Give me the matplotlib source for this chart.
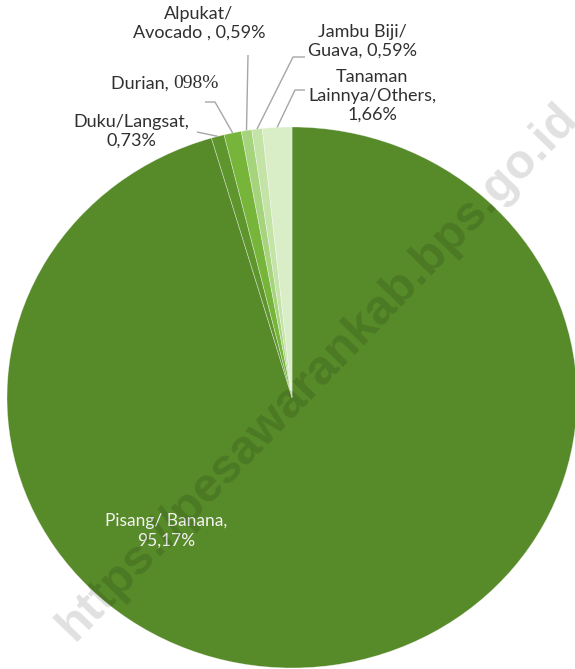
import matplotlib
matplotlib.use("Agg")
import matplotlib.pyplot as plt
import numpy as np

categories = ["Pisang/ Banana", "Duku/Langsat", "Durian", "Alpukat/\nAvocado ", "Jambu Biji/\nGuava", "Tanaman\nLainnya/Others"]
values = [95.17, 0.73, 0.98, 0.59, 0.59, 1.66]
value_labels = ["95,17%", "0,73%", "098%", "0,59%", "0,59%", "1,66%"]
colors = ["#578a29", "#5e952d", "#77b43a", "#a6d47d", "#c4e3a7", "#d9edc6"]

W, H = 575, 669
CX, CY, RX, RY = 292, 397.5, 285, 270.5

fig = plt.figure(figsize=(W / 100, H / 100), dpi=100)
ax = fig.add_axes([0, 0, 1, 1])

wedges, _ = ax.pie(values, colors=colors, startangle=90, counterclock=False,
                   wedgeprops=dict(edgecolor=(1, 1, 1, 0.45), linewidth=0.5))
ax.set_aspect("auto")
ax.set_xlim(-CX / RX, (W - CX) / RX)
ax.set_ylim(-(H - CY) / RY, CY / RY)
ax.axis("off")


def p2d(px, py):
    return (px - CX) / RX, (CY - py) / RY


def edge_point(w):
    a = np.deg2rad((w.theta1 + w.theta2) / 2)
    return np.cos(a), np.sin(a)


FONT = "Lato"
FS = 13
TC = "#303030"
LC = "#a6a6a6"
LS = 1.2

# watermark
fig.text(318 / W, 1 - 372 / H, "https://pesawarankab.bps.go.id", rotation=46,
         rotation_mode="anchor", ha="center", va="center", fontsize=35,
         fontweight="bold", family="Liberation Sans", color=(0, 0, 0, 0.12))

# Pisang label (inside)
x, y = p2d(166, 531)
ax.text(x, y, f"{categories[0]},\n{value_labels[0]}", ha="center", va="center",
        color="#f4f4f4", fontsize=FS - 0.5, family=FONT, linespacing=1.25)

# leader lines
leaders = {
    1: [(197, 132)],
    2: [(205, 102), (215, 102)],
    3: [(248, 55)],
    4: [(305, 57), (293, 57)],
    5: [(305, 90), (295, 90)],
}
for i, pts in leaders.items():
    xs = [p2d(*p)[0] for p in pts]
    ys = [p2d(*p)[1] for p in pts]
    ex, ey = edge_point(wedges[i])
    xs.append(ex)
    ys.append(ey)
    ax.plot(xs, ys, color=LC, lw=1, solid_capstyle="butt")

# Duku
x, y = p2d(131, 131)
ax.text(x, y, f"{categories[1]},\n{value_labels[1]}", ha="center", va="center",
        color=TC, fontsize=FS, family=FONT, linespacing=LS)
# Durian (sans + serif number)
x, y = p2d(173, 84)
ax.text(x, y, f"{categories[2]}, ", ha="right", va="center", color=TC,
        fontsize=FS, family=FONT)
ax.text(x, y, value_labels[2], ha="left", va="center", color=TC,
        fontsize=FS + 1, family="Liberation Serif")
# Alpukat
x, y = p2d(199, 23)
ax.text(x, y, f"{categories[3]}, {value_labels[3]}", ha="center", va="center",
        color=TC, fontsize=FS, family=FONT, linespacing=LS)
# Jambu
x, y = p2d(362, 41)
ax.text(x, y, f"{categories[4]}, {value_labels[4]}", ha="center", va="center",
        color=TC, fontsize=FS, family=FONT, linespacing=LS)
# Others
x, y = p2d(372, 96)
ax.text(x, y, f"{categories[5]},\n{value_labels[5]}", ha="center", va="center",
        color=TC, fontsize=FS, family=FONT, linespacing=LS)

fig.savefig("out.png", dpi=100)
